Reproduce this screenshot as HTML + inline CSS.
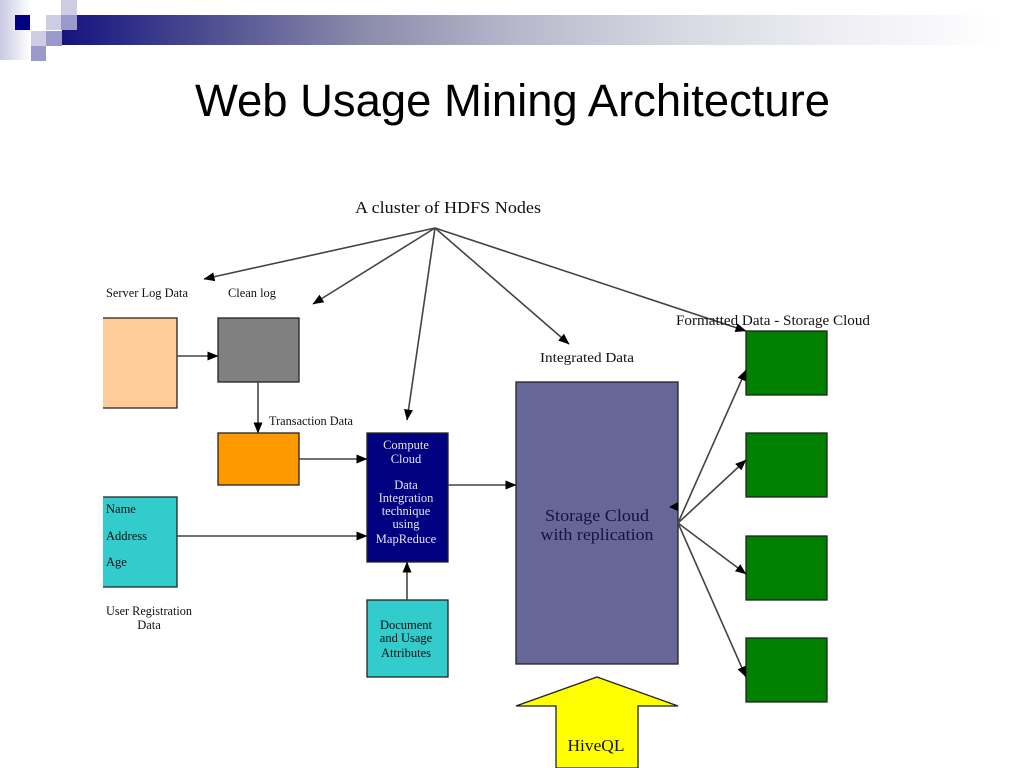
<!DOCTYPE html>
<html>
<head>
<meta charset="utf-8">
<style>
html,body{margin:0;padding:0;background:#fff;width:1024px;height:768px;overflow:hidden}
svg{display:block}
.s{font-family:"Liberation Serif",serif;font-size:12.5px;fill:#111}
.c{text-anchor:middle}
.w{fill:#e4e4f4}
</style>
</head>
<body>
<svg width="1024" height="768" viewBox="0 0 1024 768" xmlns="http://www.w3.org/2000/svg">
<defs>
<linearGradient id="bar" x1="0" x2="1" y1="0" y2="0">
<stop offset="0" stop-color="#14147f"/>
<stop offset="0.143" stop-color="#4a4a90"/>
<stop offset="0.31" stop-color="#8a8aaa"/>
<stop offset="0.475" stop-color="#b8b8cc"/>
<stop offset="0.64" stop-color="#d8d8e2"/>
<stop offset="0.807" stop-color="#eeeef4"/>
<stop offset="0.975" stop-color="#ffffff"/>
</linearGradient>
<linearGradient id="lft" x1="0" x2="1" y1="0" y2="0">
<stop offset="0" stop-color="#c8c8e2"/>
<stop offset="1" stop-color="#ffffff"/>
</linearGradient>
<marker id="a" markerWidth="12" markerHeight="10" refX="10.5" refY="4.5" orient="auto" markerUnits="userSpaceOnUse">
<path d="M0,0 L11,4.5 L0,9 Z" fill="#000"/>
</marker>
</defs>

<!-- header decoration -->
<rect x="0" y="0" width="30" height="60" fill="url(#lft)"/>
<rect x="62" y="15" width="962" height="30" fill="url(#bar)"/>
<rect x="15" y="15" width="15" height="15" fill="#000080"/>
<rect x="46" y="15" width="15" height="15" fill="#ccccE2"/>
<rect x="61" y="0" width="16" height="15" fill="#ccccE2"/>
<rect x="61" y="15" width="16" height="15" fill="#9999cc"/>
<rect x="31" y="31" width="15" height="15" fill="#ccccE2"/>
<rect x="46" y="31" width="16" height="15" fill="#9999cc"/>
<rect x="31" y="46" width="15" height="15" fill="#9999cc"/>

<text x="195" y="116" font-family="'Liberation Sans',sans-serif" font-size="45" fill="#000" textLength="635" lengthAdjust="spacingAndGlyphs">Web Usage Mining Architecture</text>

<!-- boxes -->
<g stroke="#222" stroke-width="1.3">
<rect x="103" y="318" width="74" height="90" fill="#ffcc99" stroke="none"/>
<path d="M103,318 H177 V408 H103" fill="none"/>
<rect x="218" y="318" width="81" height="64" fill="#808080"/>
<rect x="218" y="433" width="81" height="52" fill="#ff9900"/>
<rect x="103" y="497" width="74" height="90" fill="#33cccc" stroke="none"/>
<path d="M103,497 H177 V587 H103" fill="none"/>
<rect x="367" y="433" width="81" height="129" fill="#000080"/>
<rect x="367" y="600" width="81" height="77" fill="#33cccc"/>
<rect x="516" y="382" width="162" height="282" fill="#666699"/>
<rect x="746" y="331" width="81" height="64" fill="#008000"/>
<rect x="746" y="433" width="81" height="64" fill="#008000"/>
<rect x="746" y="536" width="81" height="64" fill="#008000"/>
<rect x="746" y="638" width="81" height="64" fill="#008000"/>
<path d="M597,677 L678,706 H638 V768 H556 V706 H516 Z" fill="#ffff00"/>
</g>

<!-- connectors -->
<g stroke="#444" stroke-width="1.6" fill="none" marker-end="url(#a)">
<line x1="435" y1="228" x2="204" y2="279"/>
<line x1="435" y1="228" x2="313" y2="304"/>
<line x1="435" y1="228" x2="407" y2="420"/>
<line x1="435" y1="228" x2="569" y2="344"/>
<line x1="435" y1="228" x2="746" y2="331"/>
<line x1="177" y1="356" x2="218" y2="356"/>
<line x1="258" y1="382" x2="258" y2="433"/>
<line x1="299" y1="459" x2="367" y2="459"/>
<line x1="177" y1="536" x2="367" y2="536"/>
<line x1="448" y1="485" x2="516" y2="485"/>
<line x1="407" y1="600" x2="407" y2="562"/>
<line x1="678" y1="523" x2="746" y2="370"/>
<line x1="678" y1="523" x2="746" y2="460"/>
<line x1="678" y1="523" x2="746" y2="574"/>
<line x1="678" y1="523" x2="746" y2="677"/>
</g>
<path d="M669,507 L678,502 L678,511 Z" fill="#000"/>

<!-- labels -->
<text x="448" y="213" class="s c" style="font-size:17px" textLength="186" lengthAdjust="spacingAndGlyphs">A cluster of HDFS Nodes</text>
<text x="147" y="297" class="s c" textLength="82" lengthAdjust="spacingAndGlyphs">Server Log Data</text>
<text x="252" y="297" class="s c" textLength="48" lengthAdjust="spacingAndGlyphs">Clean log</text>
<text x="311" y="425" class="s c" textLength="84" lengthAdjust="spacingAndGlyphs">Transaction Data</text>
<text x="587" y="362" class="s c" style="font-size:14px" textLength="94" lengthAdjust="spacingAndGlyphs">Integrated Data</text>
<text x="773" y="325" class="s c" style="font-size:15px" textLength="194" lengthAdjust="spacingAndGlyphs">Formatted Data - Storage Cloud</text>

<text x="406" y="449" class="s c w">Compute</text>
<text x="406" y="463" class="s c w">Cloud</text>
<text x="406" y="489" class="s c w">Data</text>
<text x="406" y="502" class="s c w">Integration</text>
<text x="406" y="515" class="s c w">technique</text>
<text x="406" y="528" class="s c w">using</text>
<text x="406" y="543" class="s c w">MapReduce</text>

<text x="106" y="513" class="s">Name</text>
<text x="106" y="540" class="s">Address</text>
<text x="106" y="566" class="s">Age</text>
<text x="149" y="615" class="s c" textLength="86" lengthAdjust="spacingAndGlyphs">User Registration</text>
<text x="149" y="629" class="s c">Data</text>

<text x="406" y="629" class="s c">Document</text>
<text x="406" y="642" class="s c">and Usage</text>
<text x="406" y="657" class="s c">Attributes</text>

<text x="597" y="521" class="s c" style="font-size:16.5px;fill:#14143c" textLength="104" lengthAdjust="spacingAndGlyphs">Storage Cloud</text>
<text x="597" y="540" class="s c" style="font-size:16.5px;fill:#14143c" textLength="113" lengthAdjust="spacingAndGlyphs">with replication</text>
<text x="596" y="751" class="s c" style="font-size:17px" textLength="57" lengthAdjust="spacingAndGlyphs">HiveQL</text>
</svg>
</body>
</html>
